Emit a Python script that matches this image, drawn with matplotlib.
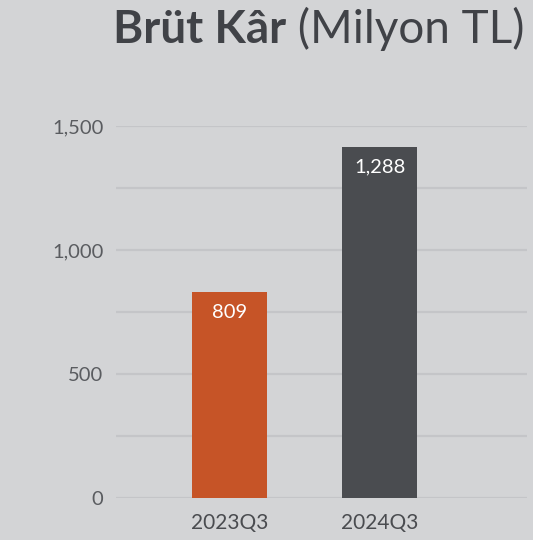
import matplotlib
matplotlib.use("Agg")
import matplotlib.pyplot as plt

# data
periods = ["2023Q3", "2024Q3"]
bar_heights = [831, 1415]          # heights as drawn in the reference
value_labels = ["809", "1,288"]    # labels printed on the bars
bar_colors = ["#c65427", "#4a4c50"]
y_major = [0, 500, 1000, 1500]
y_major_labels = ["0", "500", "1,000", "1,500"]
y_minor = [250, 750, 1250]

BG = "#d3d4d6"
GRID = "#c4c5c8"
TXT = "#5a5c60"

plt.rcParams["font.family"] = ["Lato", "DejaVu Sans"]

fig = plt.figure(figsize=(5.33, 5.4), dpi=100, facecolor=BG)
ax = fig.add_axes([116 / 533, 1 - 498 / 540, (527 - 116) / 533, (498 - 126) / 540])
ax.set_facecolor(BG)

x = list(range(len(periods)))
ax.bar(x, bar_heights, width=0.5, color=bar_colors, zorder=3)

for xi, h, lab in zip(x, bar_heights, value_labels):
    ax.annotate(lab, xy=(xi, h), xytext=(0, -14.5), textcoords="offset points",
                ha="center", va="center", color="white", fontsize=14.5, zorder=4)

ax.set_xlim(-0.757, 1.983)
ax.set_ylim(0, 1500)
ax.set_yticks(y_major)
ax.set_yticklabels(y_major_labels)
ax.set_yticks(y_minor, minor=True)
ax.set_xticks(x)
ax.set_xticklabels(periods)

ax.grid(axis="y", which="both", color=GRID, linewidth=1.6, zorder=0)
ax.set_axisbelow(True)
for s in ax.spines.values():
    s.set_visible(False)
ax.tick_params(axis="y", which="both", length=0, pad=9, labelsize=14.5, labelcolor=TXT)
ax.tick_params(axis="x", length=0, pad=11, labelsize=15, labelcolor="#4a4c50")

# title: bold part + regular part, right aligned
t2 = fig.text(525 / 533, 1 - 43 / 540, " (Milyon TL)", ha="right", va="baseline",
              fontsize=33, color="#404247")
fig.canvas.draw()
bb = t2.get_window_extent()
fig.text(bb.x0 / fig.bbox.width, 1 - 43 / 540, "Brüt Kâr", ha="right", va="baseline",
         fontsize=33, fontweight="bold", color="#404247")

fig.savefig("out.png", dpi=100, facecolor=BG)
